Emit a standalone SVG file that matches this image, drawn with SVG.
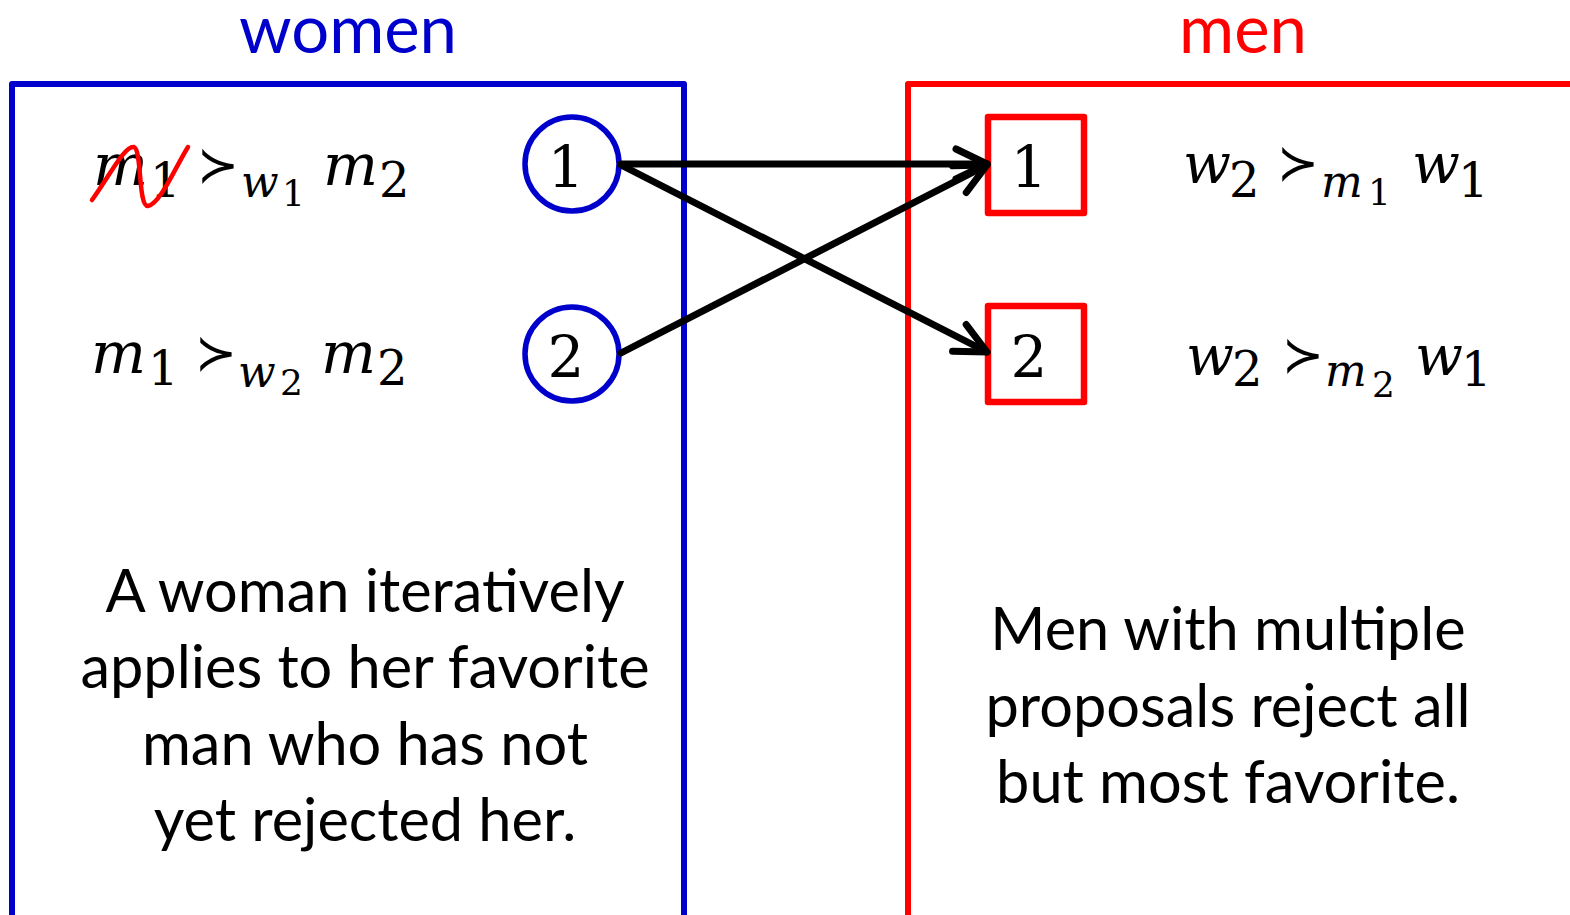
<svg xmlns="http://www.w3.org/2000/svg" width="1570" height="915" viewBox="0 0 1570 915">
<defs>
<style>
.title{font-family:Lato,"Open Sans",sans-serif;font-size:67px;text-anchor:middle}
.body{font-family:Lato,"Open Sans",sans-serif;font-size:59.5px;text-anchor:middle;fill:#000}
.math{font-family:"DejaVu Serif",serif;fill:#000}
.it{font-style:italic;font-size:58px}
.s1{font-size:48px}
.s1i{font-style:italic;font-size:44px}
.s2{font-size:36px}
.rel{font-size:50px}
.num{font-family:"DejaVu Serif",serif;font-size:58px;text-anchor:middle;fill:#000}
.frameW{fill:none;stroke:#0000CC;stroke-width:6;stroke-linejoin:round}
.frameM{fill:none;stroke:#FF0000;stroke-width:6;stroke-linejoin:round}
.wnode{fill:#fff;stroke:#0000CC;stroke-width:5.5}
.mnode{fill:#fff;stroke:#FF0000;stroke-width:6.5;stroke-linejoin:round}
.edge{stroke:#000;stroke-width:7;stroke-linecap:round;fill:none;marker-end:url(#arr)}
</style>
<marker id="arr" markerUnits="userSpaceOnUse" viewBox="-40 -25 50 50" markerWidth="50" markerHeight="50" refX="0" refY="0" orient="auto" overflow="visible">
<path d="M-31,-15 L0,0 L-31,15" fill="none" stroke="#000" stroke-width="7" stroke-linecap="round" stroke-linejoin="round"/>
</marker>
</defs>
<rect width="1570" height="915" fill="#fff"/>

<g id="women-frame">
<rect class="frameW" x="12" y="84" width="672" height="900"/>
<text class="title" x="348" y="53" fill="#0000CC">women</text>
</g>
<g id="men-frame">
<rect class="frameM" x="908" y="84" width="700" height="900"/>
<text class="title" x="1243" y="53" fill="#FF0000">men</text>
</g>

<g id="w1-pref">
<text class="math"><tspan class="it" x="93" y="185">m</tspan><tspan class="s1" x="150" y="197">1</tspan><tspan class="rel" x="197" y="182">≻</tspan><tspan class="s1i" x="241" y="197">w</tspan><tspan class="s2" x="282" y="206">1</tspan><tspan class="it" x="323" y="185">m</tspan><tspan class="s1" x="379" y="197">2</tspan></text>
<path d="M92,200 C110,175 125,145 134,147 C142,150 138,207 148,206 C160,204 175,168 188,147" fill="none" stroke="#FF0000" stroke-width="4.5" stroke-linecap="round"/>
</g>
<g id="w2-pref">
<text class="math"><tspan class="it" x="91" y="373">m</tspan><tspan class="s1" x="148" y="385">1</tspan><tspan class="rel" x="195" y="370">≻</tspan><tspan class="s1i" x="238" y="387">w</tspan><tspan class="s2" x="280" y="395">2</tspan><tspan class="it" x="321" y="373">m</tspan><tspan class="s1" x="377" y="385">2</tspan></text>
</g>

<g id="w1">
<circle class="wnode" cx="572" cy="164" r="47"/>
<text class="num" x="566" y="187">1</text>
</g>
<g id="w2">
<circle class="wnode" cx="572" cy="354" r="47"/>
<text class="num" x="566" y="377">2</text>
</g>

<g id="m1">
<rect class="mnode" x="988" y="117" width="96" height="96"/>
<text class="num" x="1029" y="187">1</text>
</g>
<g id="m2">
<rect class="mnode" x="988" y="306" width="96" height="96"/>
<text class="num" x="1029" y="377">2</text>
</g>

<g id="m1-pref">
<text class="math"><tspan class="s1i" x="1183" y="183" style="font-size:56px">w</tspan><tspan class="s1" x="1229" y="197">2</tspan><tspan class="rel" x="1277" y="180">≻</tspan><tspan class="s1i" x="1321" y="197">m</tspan><tspan class="s2" x="1368" y="205">1</tspan><tspan class="s1i" x="1412" y="183" style="font-size:56px">w</tspan><tspan class="s1" x="1458" y="197">1</tspan></text>
</g>
<g id="m2-pref">
<text class="math"><tspan class="s1i" x="1186" y="375" style="font-size:56px">w</tspan><tspan class="s1" x="1232" y="386">2</tspan><tspan class="rel" x="1282" y="372">≻</tspan><tspan class="s1i" x="1325" y="386">m</tspan><tspan class="s2" x="1372" y="397">2</tspan><tspan class="s1i" x="1415" y="375" style="font-size:56px">w</tspan><tspan class="s1" x="1461" y="386">1</tspan></text>
</g>

<g id="women-note">
<text class="body"><tspan x="365" y="612">A woman iteratively</tspan><tspan x="365" y="688">applies to her favorite</tspan><tspan x="365" y="765">man who has not</tspan><tspan x="365" y="841">yet rejected her.</tspan></text>
</g>
<g id="men-note">
<text class="body"><tspan x="1228" y="650">Men with multiple</tspan><tspan x="1228" y="727">proposals reject all</tspan><tspan x="1228" y="803">but most favorite.</tspan></text>
</g>

<g id="connectors">
<line class="edge" x1="621" y1="164" x2="987" y2="164"/>
<line class="edge" x1="621" y1="353" x2="987" y2="165"/>
<line class="edge" x1="621" y1="165" x2="987" y2="352"/>
</g>
</svg>
